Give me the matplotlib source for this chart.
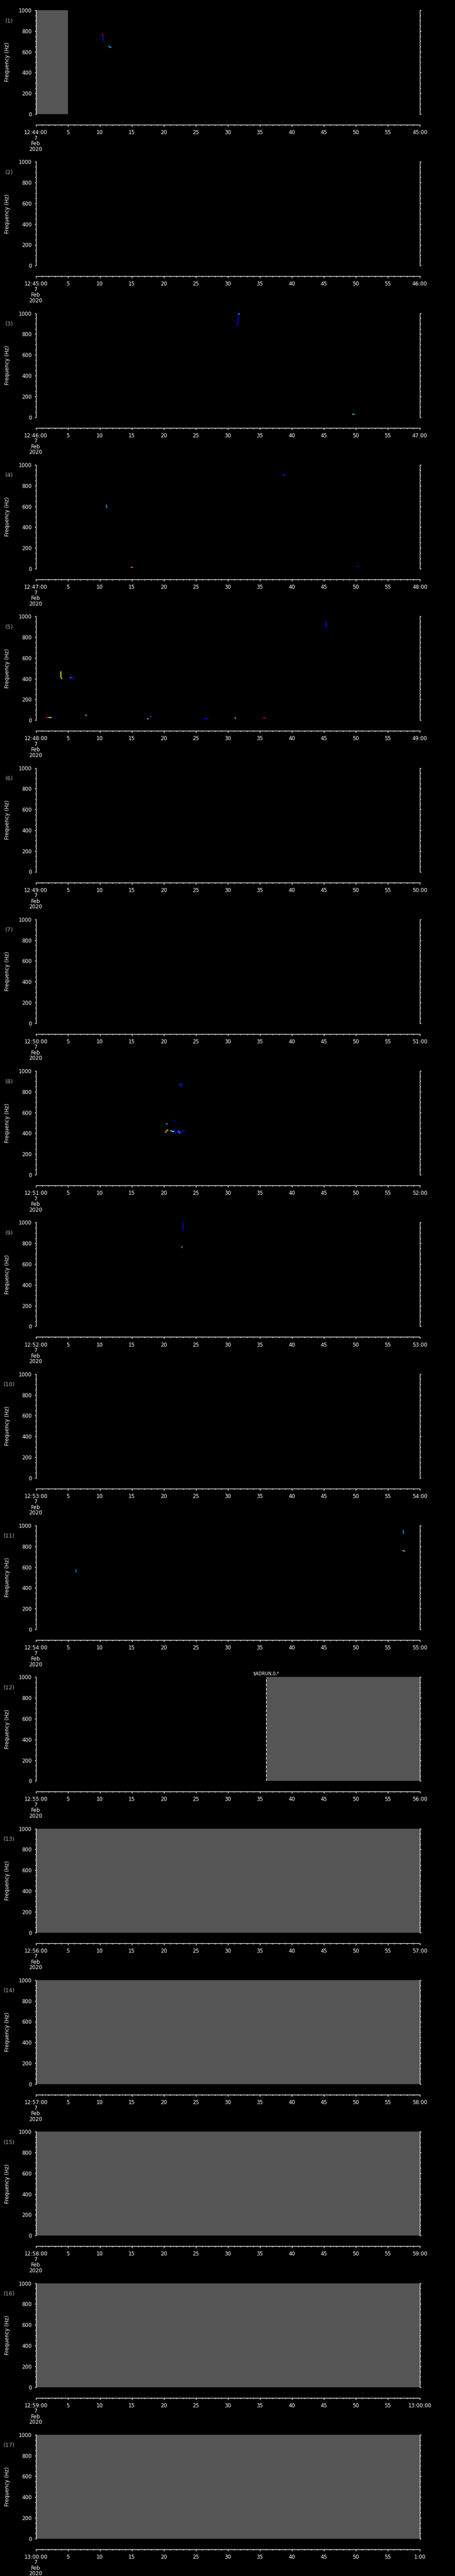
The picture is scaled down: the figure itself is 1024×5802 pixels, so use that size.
import matplotlib
matplotlib.use("Agg")
import matplotlib.pyplot as plt
from matplotlib.collections import LineCollection
import matplotlib.transforms as mtransforms
import numpy as np

# ---------------- data ----------------
START_LABELS = ["12:44:00", "12:45:00", "12:46:00", "12:47:00", "12:48:00", "12:49:00",
                "12:50:00", "12:51:00", "12:52:00", "12:53:00", "12:54:00", "12:55:00",
                "12:56:00", "12:57:00", "12:58:00", "12:59:00", "13:00:00"]
END_LABELS = ["45:00", "46:00", "47:00", "48:00", "49:00", "50:00", "51:00", "52:00",
              "53:00", "54:00", "55:00", "56:00", "57:00", "58:00", "59:00", "13:00:00", "1:00"]
DATE_LABEL = "7\nFeb\n2020"
PANEL_NUMBERS = list(range(1, 18))
MID_TICKS = [5, 10, 15, 20, 25, 30, 35, 40, 45, 50, 55]
Y_TICKS = [0, 200, 400, 600, 800, 1000]

# no-data (grey) intervals in seconds, per panel
GAPS = {1: [(0, 5)], 12: [(36, 60)], 13: [(0, 60)], 14: [(0, 60)],
        15: [(0, 60)], 16: [(0, 60)], 17: [(0, 60)]}
MARKER_PANEL = 12
MARKER_TIME = 36
MARKER_TEXT = "$ADRUN,0,*"

# tracks: per panel, list of (time s, freq Hz, colour level 0..1) points
TRACKS = {
    1: [[(10.35, 775, 0.92), (10.45, 760, 0.92), (10.55, 755, 0.10), (10.55, 705, 0.10), (10.6, 705, 0.10)],
        [(11.35, 655, 0.35), (11.5, 650, 0.35), (11.65, 642, 0.30), (11.8, 640, 0.15)]],
    3: [[(31.45, 868, 0.12), (31.45, 880, 0.12), (31.6, 920, 0.12), (31.65, 922, 0.12),
         (31.65, 995, 0.30), (31.9, 995, 0.30)],
        [(49.45, 27, 0.45), (49.8, 27, 0.15)]],
    4: [[(11.0, 615, 0.35), (11.05, 612, 0.30), (11.1, 585, 0.25), (11.15, 585, 0.25)],
        [(38.7, 905, 0.35), (38.75, 898, 0.12), (38.8, 904, 0.12), (39.1, 904, 0.12)],
        [(14.8, 11, 0.80), (15.2, 11, 0.80)],
        [(50.2, 20, 0.15), (50.5, 20, 0.15)]],
    5: [[(1.6, 25, 0.92), (2.0, 25, 0.55), (2.4, 25, 0.30), (2.5, 25, 0.30)],
        [(3.9, 470, 0.62), (3.95, 470, 0.62), (3.95, 410, 0.55), (4.05, 400, 0.35), (4.15, 396, 0.35)],
        [(5.4, 413, 0.50), (5.55, 413, 0.10), (5.6, 398, 0.10), (5.9, 400, 0.10), (5.95, 420, 0.10), (6.1, 420, 0.10)],
        [(7.6, 51, 0.90), (7.8, 49, 0.35), (8.0, 45, 0.30)],
        [(17.4, 12, 0.60), (17.6, 12, 0.60)],
        [(17.9, 35, 0.30), (18.0, 40, 0.12), (18.25, 40, 0.12)],
        [(26.2, 12, 0.12), (26.6, 14, 0.12), (27.0, 15, 0.12)],
        [(45.3, 957, 0.12), (45.35, 900, 0.12), (45.55, 910, 0.20)],
        [(31.1, 21, 0.60), (31.3, 21, 0.60)],
        [(35.5, 21, 0.90), (35.9, 21, 0.30)]],
    8: [[(22.5, 870, 0.35), (22.6, 868, 0.12), (22.65, 852, 0.12), (22.85, 852, 0.12), (22.9, 880, 0.12)],
        [(21.6, 512, 0.12), (21.65, 525, 0.12), (21.8, 525, 0.12)],
        [(20.4, 493, 0.40), (20.6, 493, 0.40)],
        [(20.15, 398, 0.12), (20.3, 405, 0.70), (20.35, 420, 0.75), (20.5, 430, 0.75), (20.6, 435, 0.75),
         (20.65, 420, 0.45)],
        [(21.0, 425, 0.40), (21.3, 420, 0.45), (21.45, 412, 0.50), (21.6, 425, 0.12), (21.75, 425, 0.12),
         (21.8, 400, 0.12), (22.1, 400, 0.12), (22.15, 425, 0.12), (22.3, 425, 0.30), (22.4, 405, 0.35),
         (22.55, 403, 0.15), (22.7, 412, 0.12), (22.9, 420, 0.12), (23.35, 425, 0.12)]],
    9: [[(23.0, 996, 0.10), (23.0, 925, 0.10), (22.95, 918, 0.12)],
        [(22.8, 770, 0.40), (22.85, 760, 0.75), (22.85, 755, 0.75)]],
    11: [[(6.25, 580, 0.25), (6.3, 550, 0.20), (6.4, 548, 0.20)],
         [(57.4, 957, 0.30), (57.45, 925, 0.20), (57.55, 920, 0.15)],
         [(57.35, 762, 0.60), (57.5, 755, 0.55), (57.65, 752, 0.12), (57.85, 748, 0.12)]],
}

# ---------------- figure ----------------
W, H = 1024, 5802
fig = plt.figure(figsize=(W / 100, H / 100), dpi=100, facecolor="black")
plt.rcParams["font.family"] = ["DejaVu Sans"]

LEFT_PX, RIGHT_PX = 80.5, 944.7
TOP0, PITCH, HPX = 23.0, 341.3, 234.0
GREY = "#555555"
FS = 8.5
cmap = plt.get_cmap("jet")

for i, pnum in enumerate(PANEL_NUMBERS):
    top = TOP0 + PITCH * i
    ax = fig.add_axes([LEFT_PX / W, 1 - (top + HPX) / H, (RIGHT_PX - LEFT_PX) / W, HPX / H])
    ax.set_facecolor("black")
    ax.set_xlim(0, 60)
    ax.set_ylim(0, 1000)

    for (g0, g1) in GAPS.get(pnum, []):
        ax.axvspan(g0, g1, color=GREY, lw=0, zorder=0)

    for tr in TRACKS.get(pnum, []):
        arr = np.array(tr, dtype=float)
        pts = arr[:, :2]
        segs = np.stack([pts[:-1], pts[1:]], axis=1)
        lc = LineCollection(segs, colors=cmap(arr[:-1, 2]), linewidths=1.5, zorder=3)
        ax.add_collection(lc)

    if pnum == MARKER_PANEL:
        ax.axvline(MARKER_TIME, color="white", lw=1.0, ls=(0, (4, 3)), zorder=4)
        trans = mtransforms.offset_copy(ax.transData, fig=fig, y=3, units="dots")
        ax.text(MARKER_TIME, 1000, MARKER_TEXT, color="white", fontsize=7, ha="center",
                va="bottom", transform=trans, parse_math=False)

    # spines
    ax.spines["top"].set_visible(False)
    for s in ["left", "right", "bottom"]:
        ax.spines[s].set_color("white")
        ax.spines[s].set_linewidth(1.0)
    ax.spines["bottom"].set_position(("outward", 17.3))

    # y axis
    ax.set_yticks(Y_TICKS)
    ax.set_yticklabels([str(v) for v in Y_TICKS])
    ax.set_yticks(np.arange(0, 1001, 50), minor=True)
    ax.tick_params(axis="y", which="major", direction="out", length=2.2, width=1,
                   colors="white", labelsize=FS, pad=4.5, left=True, right=True, labelright=False)
    ax.tick_params(axis="y", which="minor", direction="out", length=1.4, width=1,
                   colors="white", left=True, right=True)
    ax.set_ylabel("Frequency (Hz)", color="white", fontsize=FS)
    ax.yaxis.set_label_coords((23 - LEFT_PX) / (RIGHT_PX - LEFT_PX), 0.5)

    # x axis
    xt = [0] + MID_TICKS + [60]
    xl = [START_LABELS[i] + "\n" + DATE_LABEL] + [str(v) for v in MID_TICKS] + [END_LABELS[i]]
    ax.set_xticks(xt)
    ax.set_xticklabels(xl)
    ax.set_xticks(np.arange(0, 61, 1), minor=True)
    ax.tick_params(axis="x", which="major", direction="out", length=3.0, width=1,
                   colors="white", labelsize=FS, pad=5)
    ax.tick_params(axis="x", which="minor", direction="out", length=1.7, width=1, colors="white")
    for lab in ax.get_xticklabels():
        lab.set_linespacing(0.95)

    # panel number
    ax.text((21 - LEFT_PX) / (RIGHT_PX - LEFT_PX), 1 - (47 - TOP0) / HPX,
            "(%d)" % pnum, color="#aaaaaa", fontsize=FS + 0.5, ha="center", va="center",
            transform=ax.transAxes)

fig.savefig("out.png", dpi=100, facecolor="black")
